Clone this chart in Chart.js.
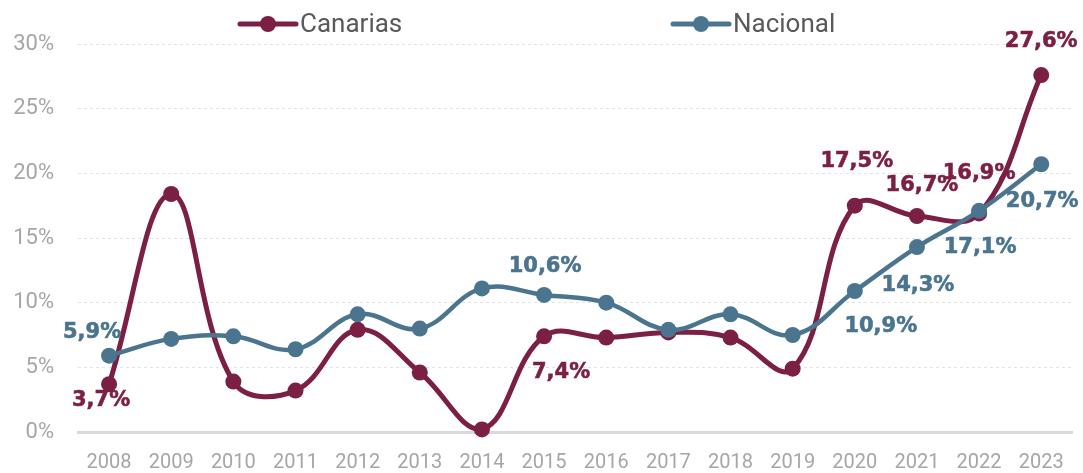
<!DOCTYPE html>
<html>
<head>
<meta charset="utf-8">
<script src="https://cdn.jsdelivr.net/npm/chart.js@4/dist/chart.umd.min.js"></script>
<style>
  html, body { margin: 0; padding: 0; background: #ffffff; }
  #wrap { width: 1083px; height: 473px; }
</style>
</head>
<body>
<div id="wrap"><canvas id="c" width="1083" height="473"></canvas></div>
<script>
// ---- data ----
const years = ['2008','2009','2010','2011','2012','2013','2014','2015','2016','2017','2018','2019','2020','2021','2022','2023'];
const canarias = [3.7, 18.4, 3.9, 3.2, 7.9, 4.6, 0.2, 7.4, 7.3, 7.7, 7.3, 4.9, 17.5, 16.7, 16.9, 27.6];
const nacional = [5.9, 7.2, 7.4, 6.4, 9.1, 8.0, 11.1, 10.6, 10.0, 7.9, 9.1, 7.5, 10.9, 14.3, 17.1, 20.7];
const yTicks = [0, 5, 10, 15, 20, 25, 30];
const seriesNames = ['Canarias', 'Nacional'];
// which points carry a value label
const canariasLabeled = [0, 7, 12, 13, 14, 15];
const nacionalLabeled = [0, 7, 12, 13, 14, 15];

// ---- style ----
const colCan = '#7B1F45';
const colNac = '#4B758F';
// label offsets (px) relative to the point
const canOffsets = [[-8, 16], [17, 36], [2, -44], [5, -30], [0, -40], [0, -33]];
const nacOffsets = [[-17, -23], [1, -28], [26, 36], [1, 38], [1, 37], [1, 37]];

const fmt = v => v.toFixed(1).replace('.', ',') + '%';

const labelPlugin = {
  id: 'valueLabels',
  afterDatasetsDraw(chart) {
    const ctx = chart.ctx;
    ctx.save();
    ctx.font = 'bold 21px "DejaVu Sans"';
    ctx.textAlign = 'center';
    ctx.textBaseline = 'middle';
    const draw = (dsIndex, idxs, offs, values, color) => {
      const meta = chart.getDatasetMeta(dsIndex);
      ctx.fillStyle = color;
      ctx.strokeStyle = color;
      ctx.lineWidth = 0.6;
      idxs.forEach((i, k) => {
        const p = meta.data[i];
        const tx = p.x + offs[k][0], ty = p.y + offs[k][1];
        ctx.fillText(fmt(values[i]), tx, ty);
        ctx.strokeText(fmt(values[i]), tx, ty);
      });
    };
    draw(0, canariasLabeled, canOffsets, canarias, colCan);
    draw(1, nacionalLabeled, nacOffsets, nacional, colNac);
    ctx.restore();
  }
};

const legendPlugin = {
  id: 'lineLegend',
  afterDraw(chart) {
    const ctx = chart.ctx;
    const items = [
      { name: seriesNames[0], color: colCan, x0: 240, x1: 296 },
      { name: seriesNames[1], color: colNac, x0: 673, x1: 729 }
    ];
    const y = 24;
    ctx.save();
    items.forEach(it => {
      ctx.strokeStyle = it.color;
      ctx.lineWidth = 5;
      ctx.lineCap = 'round';
      ctx.beginPath();
      ctx.moveTo(it.x0, y);
      ctx.lineTo(it.x1, y);
      ctx.stroke();
      ctx.fillStyle = it.color;
      ctx.beginPath();
      ctx.arc((it.x0 + it.x1) / 2, y, 8, 0, Math.PI * 2);
      ctx.fill();
      ctx.fillStyle = '#595959';
      ctx.font = '26px Roboto';
      ctx.textAlign = 'left';
      ctx.textBaseline = 'middle';
      ctx.fillText(it.name, it.x1 + 4, y + 1);
    });
    ctx.restore();
  }
};

new Chart(document.getElementById('c'), {
  type: 'line',
  data: {
    labels: years,
    datasets: [
      {
        label: seriesNames[0],
        data: canarias,
        borderColor: colCan,
        backgroundColor: colCan,
        borderWidth: 5,
        pointRadius: 8,
        pointHoverRadius: 8,
        pointBorderWidth: 0,
        tension: 0.4,
        clip: false,
        order: 1
      },
      {
        label: seriesNames[1],
        data: nacional,
        borderColor: colNac,
        backgroundColor: colNac,
        borderWidth: 4.5,
        pointRadius: 8,
        pointHoverRadius: 8,
        pointBorderWidth: 0,
        tension: 0.4,
        clip: false,
        order: 0
      }
    ]
  },
  options: {
    responsive: false,
    animation: false,
    layout: { padding: { top: 44, right: 9, bottom: 0, left: 0 } },
    plugins: {
      legend: { display: false },
      tooltip: { enabled: false }
    },
    scales: {
      x: {
        offset: true,
        grid: { display: false, drawTicks: false },
        border: { display: true, color: '#d9d9d9', width: 3 },
        ticks: { color: '#a6a6a6', font: { family: 'Roboto', size: 20 }, padding: 19, maxRotation: 0, autoSkip: false },
        afterFit(s) { s.height = 41; }
      },
      y: {
        min: 0,
        max: 30,
        afterBuildTicks(s) { s.ticks = yTicks.map(v => ({ value: v })); },
        grid: { color: '#e3e3e3', lineWidth: 1, drawTicks: false },
        border: { display: false, dash: [3, 3] },
        ticks: { color: '#a6a6a6', font: { family: 'Roboto', size: 22 }, padding: 24, callback: v => v + '%' },
        afterFit(s) { s.width = 78; }
      }
    }
  },
  plugins: [labelPlugin, legendPlugin]
});
</script>
</body>
</html>
